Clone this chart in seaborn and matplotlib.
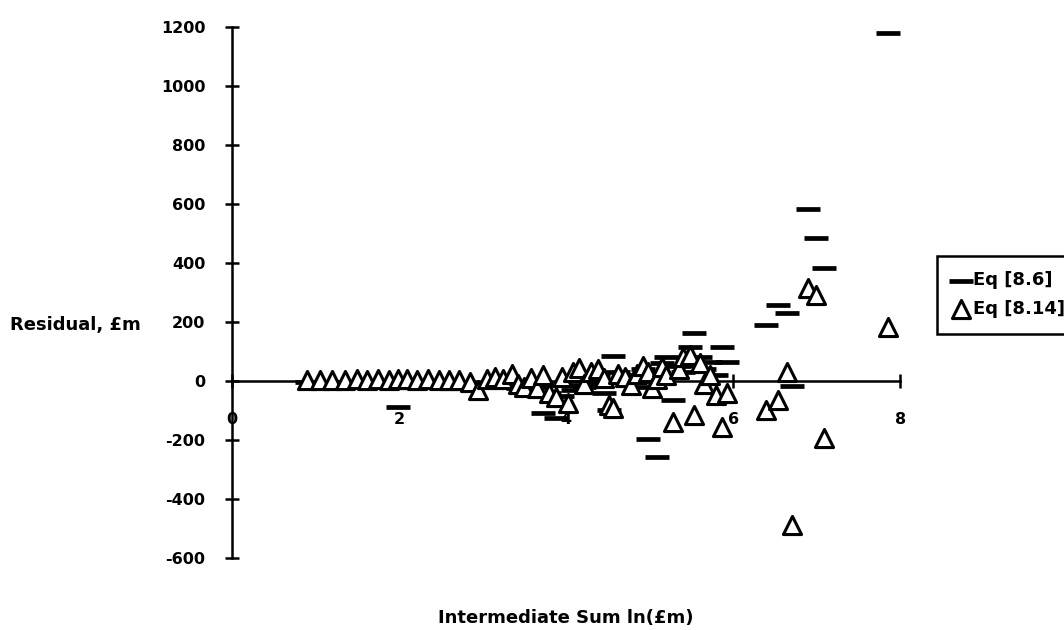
import matplotlib
matplotlib.use("Agg")
import matplotlib.pyplot as plt
import seaborn as sns
import pandas as pd

# Intermediate sum ln(£m) for each case
x_vals = [0.90, 1.05, 1.20, 1.35, 1.50, 1.62, 1.75, 1.88, 1.99, 2.10,
          2.22, 2.35, 2.48, 2.60, 2.72, 2.85, 2.95, 3.05, 3.15, 3.25,
          3.35, 3.42, 3.50, 3.58, 3.65, 3.72, 3.80, 3.88, 3.95, 4.02,
          4.08, 4.15, 4.22, 4.30, 4.38, 4.45, 4.52, 4.56, 4.62, 4.70,
          4.78, 4.85, 4.92, 4.98, 5.03, 5.09, 5.15, 5.20, 5.28, 5.35,
          5.40, 5.48, 5.53, 5.60, 5.65, 5.72, 5.80, 5.87, 5.93, 6.39,
          6.54, 6.65, 6.71, 6.90, 6.99, 7.09, 7.85]

# Residuals, £m, Eq [8.6]
resid_86 = [-5, -8, -6, -5, -10, -12, -8, -10, -88, -6,
            -12, -8, -10, -5, -12, -8, -15, -10, -20, -12,
            -20, -25, -30, -35, -20, -110, -40, -125, -50, -15,
            -30, 10, -20, -10, 20, -40, -100, 85, 30, -5,
            20, -20, 40, -197, 0, -258, 60, 80, -65, 50,
            30, 115, 163, 80, 40, 64, 20, 115, 64, 190,
            258, 230, -17, 583, 485, 383, 1180]

# Residuals, £m, Eq [8.14]
resid_814 = [3, 2, 4, 3, 5, 2, 6, 3, 8, 5,
             4, 6, 3, 2, 4, -5, -30, 6, 15, 5,
             25, -10, -20, 10, -25, 20, -40, -55, 15, -75,
             30, 45, -10, 30, 40, 10, -80, -92, 25, 15,
             -15, 25, 50, 30, -25, 5, 47, 20, -139, 40,
             80, 88, -115, 60, -10, 20, -47, -156, -40, -98,
             -64, 30, -488, 315, 292, -193, 183]

series_labels = ["Eq [8.6]", "Eq [8.14]"]
x_ticks = [0, 2, 4, 6, 8]
y_ticks = [-600, -400, -200, 0, 200, 400, 600, 800, 1000, 1200]

df = pd.DataFrame({"x": x_vals, "r86": resid_86, "r814": resid_814})

sns.set_style("white")
plt.rcParams["font.family"] = ["DejaVu Sans"]
plt.rcParams["font.weight"] = "bold"
plt.rcParams["text.color"] = "black"

fig = plt.figure(figsize=(10.64, 6.3), dpi=100)
ax = fig.add_axes([0.218, 0.1143, 0.628, 0.843])

sns.scatterplot(data=df, x="x", y="r86", marker="_", s=300, color="black",
                linewidth=3.4, ax=ax, label=series_labels[0], zorder=3)
sns.scatterplot(data=df, x="x", y="r814", marker="^", s=170, color="white",
                edgecolor="black", linewidth=2.2, ax=ax, label=series_labels[1],
                zorder=4)

ax.set_xlim(0, 8)
ax.set_ylim(-600, 1200)
ax.set_xticks(x_ticks)
ax.set_yticks(y_ticks)
ax.set_xticklabels([str(t) for t in x_ticks])
ax.set_yticklabels([str(t) for t in y_ticks])
ax.set_xlabel("")
ax.set_ylabel("")

for side in ["top", "right"]:
    ax.spines[side].set_visible(False)
ax.spines["left"].set_position(("data", 0))
ax.spines["bottom"].set_position(("data", 0))
for side in ["left", "bottom"]:
    ax.spines[side].set_linewidth(1.8)
    ax.spines[side].set_color("black")
    ax.spines[side].set_zorder(2)

ax.tick_params(axis="both", direction="inout", length=10, width=1.8,
               colors="black", labelcolor="black", labelsize=11.5,
               bottom=True, left=True)
ax.tick_params(axis="x", pad=17)
ax.tick_params(axis="y", pad=14)
for lab in ax.get_xticklabels() + ax.get_yticklabels():
    lab.set_fontweight("bold")

fig.text(10 / 1064, 1 - 325 / 630, "Residual, £m", ha="left", va="center",
         fontsize=13, fontweight="bold", color="black")
fig.text(566 / 1064, 1 - 618 / 630, "Intermediate Sum ln(£m)", ha="center",
         va="center", fontsize=13, fontweight="bold", color="black")

handles, labels = ax.get_legend_handles_labels()
leg = ax.legend(handles, labels, loc="upper left",
                bbox_to_anchor=(937 / 1064, 1 - 256 / 630),
                bbox_transform=fig.transFigure, frameon=True, fancybox=False,
                edgecolor="black", framealpha=1, fontsize=13, handlelength=1.0,
                handletextpad=0.15, borderpad=0.85, labelspacing=0.6,
                borderaxespad=0)
leg.get_frame().set_linewidth(1.8)
for t in leg.get_texts():
    t.set_fontweight("bold")
    t.set_color("black")

fig.savefig("out.png", dpi=100)
